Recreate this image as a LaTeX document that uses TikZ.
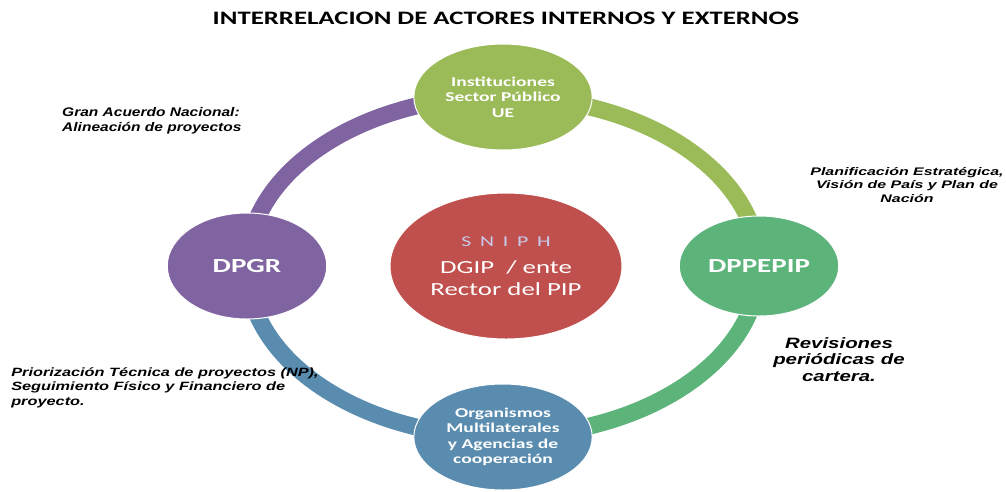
\documentclass[tikz,border=0pt]{standalone}
\usepackage{fontspec}
\setsansfont{Liberation Sans}
\newfontfamily\calibri{Carlito}
\usetikzlibrary{shapes.geometric,backgrounds}
\definecolor{instc}{HTML}{9BBB59}
\definecolor{dppc}{HTML}{5DB47B}
\definecolor{orgc}{HTML}{5A8CB0}
\definecolor{dpgrc}{HTML}{8064A2}
\definecolor{snic}{HTML}{C0504D}
\definecolor{snitxt}{HTML}{C8CCEC}
\newcommand\fs[2]{\fontsize{#1}{#2}\selectfont}
\newcommand\notefont{\sffamily\bfseries\itshape}
\tikzstyle{actor}=[ellipse,draw=white,line width=1pt,text=white,
  align=center,inner sep=0pt,xscale=1.45]
\tikzstyle{ring}=[line width=17pt]
\tikzstyle{ringarc}=[x radius=256,y radius=170]
\tikzstyle{note}=[inner sep=0pt]

\begin{document}
\begin{tikzpicture}[x=1pt,y=-1pt]
  \useasboundingbox (0,0) rectangle (1006,491);

  \node[font=\calibri\bfseries\fs{19}{22},xscale=1.41] (T) at (506,18)
    {INTERRELACION DE ACTORES INTERNOS Y EXTERNOS};

  % actors on the ring
  \node[actor,fill=instc,minimum width=123,minimum height=106,
    font=\calibri\bfseries\fs{13.5}{15.5}] (I) at (503,97)
    {Instituciones\\Sector P\'ublico\\UE};
  \node[actor,fill=dppc,minimum width=110,minimum height=100,
    font=\calibri\bfseries\fs{20}{24}] (P) at (759,266) {DPPEPIP};
  \node[actor,fill=orgc,minimum width=123,minimum height=106,
    font=\calibri\bfseries\fs{13.5}{15.5}] (O) at (503,437)
    {Organismos\\Multilaterales\\y Agencias de\\cooperaci\'on};
  \node[actor,fill=dpgrc,minimum width=110,minimum height=106,
    font=\calibri\bfseries\fs{20}{24}] (G) at (247,266) {DPGR};
  \node[actor,fill=snic,minimum width=160,minimum height=146,
    font=\calibri\fs{18.5}{22}] (S) at (506,266)
    {{\color{snitxt}\addfontfeatures{LetterSpace=40}\fs{15}{21}SNIPH}\\[5pt]
     DGIP\ \ / ente\\Rector del PIP};

  \begin{scope}[on background layer]
    \draw[ring,instc] (I.center) arc[ringarc,start angle=-90,end angle=0];
    \draw[ring,dppc] (P.center) arc[ringarc,start angle=0,end angle=90];
    \draw[ring,orgc] (O.center) arc[ringarc,start angle=90,end angle=180];
    \draw[ring,dpgrc] (G.center) arc[ringarc,start angle=180,end angle=270];
  \end{scope}

  % notes
  \node[note,anchor=north west,align=left,font=\notefont\fs{12.5}{15.5},xscale=1.24]
    (N1) at (62,107) {Gran Acuerdo Nacional:\\Alineaci\'on de proyectos};
  \node[note,anchor=north,align=center,font=\notefont\fs{11}{13.5},xscale=1.45]
    (N2) at (907,167) {Planificaci\'on Estrat\'egica,\\Visi\'on de Pa\'is y Plan de\\Naci\'on};
  \node[note,anchor=north,align=center,font=\notefont\fs{15}{16.5},xscale=1.36]
    (N3) at (839,337) {Revisiones\\peri\'odicas de\\cartera.};
  \node[note,anchor=north west,align=left,font=\notefont\fs{12}{14.5},xscale=1.36]
    (N4) at (11,367) {Priorizaci\'on T\'ecnica de proyectos (NP),\\Seguimiento F\'isico y Financiero de\\proyecto.};
\end{tikzpicture}
\end{document}
